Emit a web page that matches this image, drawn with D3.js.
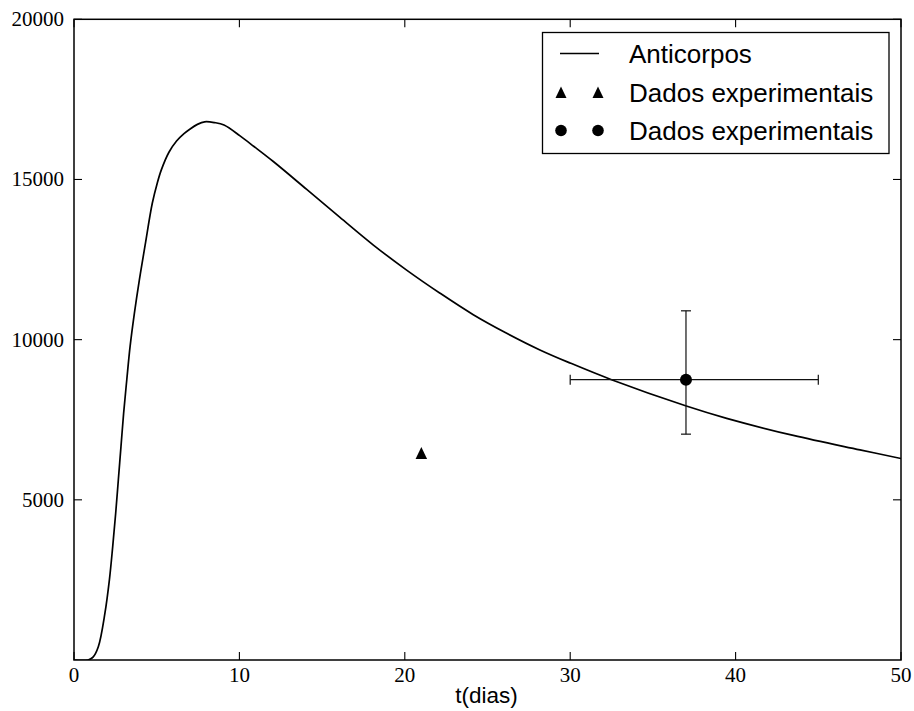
<!DOCTYPE html>
<html>
<head>
<meta charset="utf-8">
<script src="https://cdn.jsdelivr.net/npm/d3@7"></script>
<style>
  html, body { margin: 0; padding: 0; background: #fff; }
  svg { display: block; }
</style>
</head>
<body>
<svg id="chart" width="914" height="711"></svg>
<script>
// Antibody model curve (days, concentration)
const modelT = [0, 0.85, 1.15, 1.47, 1.87, 2.14, 2.34, 2.52, 2.68, 2.84, 3.0, 3.19, 3.39, 3.65, 3.95,
                4.3, 4.73, 5.04, 5.28, 5.74, 6.2, 6.65, 7.0, 7.46, 7.9, 8.5, 9.07, 10.04, 10.88,
                12.05, 14.07, 16.08, 18.1, 20.11, 22.13, 24.14, 26.16, 28.17, 30, 32.5, 37.02,
                39.46, 43.49, 47.52, 50];
const modelY = [0, 0, 90, 415, 1460, 2500, 3540, 4580, 5620, 6660, 7700, 8740, 9780, 10820, 11860,
                12950, 14250, 14900, 15300, 15850, 16200, 16430, 16570, 16720, 16800, 16775, 16700, 16360, 16030,
                15560, 14690, 13817, 12953, 12172, 11450, 10780, 10200, 9680, 9270, 8750, 7928,
                7544, 7010, 6560, 6290];

// Experimental data, set 1 (triangles)
const triT = [21];
const triY = [6450];

// Experimental data, set 2 (circles) with error ranges
const dotT = [37];
const dotY = [8750];
const dotTLow = [30];
const dotTHigh = [45];
const dotYLow = [7050];
const dotYHigh = [10900];

const xTicks = [0, 10, 20, 30, 40, 50];
const yTicks = [5000, 10000, 15000, 20000];

const legendLabels = ["Anticorpos", "Dados experimentais", "Dados experimentais"];
const xLabel = "t(dias)";

const svg = d3.select("#chart");
const W = 914, H = 711;
const m = { left: 74, top: 19.3, right: 13, bottom: 51 };

const x = d3.scaleLinear().domain([0, 50]).range([m.left, W - m.right]);
const y = d3.scaleLinear().domain([0, 20000]).range([H - m.bottom, m.top]);

const tickLen = 8;
const serif = "'Liberation Serif', 'DejaVu Serif', serif";
const sans = "'Liberation Sans', Arial, sans-serif";

// Model curve, clipped to the plot area
svg.append("clipPath").attr("id", "plotclip")
  .append("rect")
  .attr("x", x(0)).attr("y", y(20000))
  .attr("width", x(50) - x(0)).attr("height", y(0) - y(20000));

const curve = modelT.map((t, i) => [t, modelY[i]]);
svg.append("path")
  .datum(curve)
  .attr("clip-path", "url(#plotclip)")
  .attr("fill", "none")
  .attr("stroke", "#000")
  .attr("stroke-width", 1.7)
  .attr("stroke-linejoin", "round")
  .attr("d", d3.line().x(d => x(d[0])).y(d => y(d[1])).curve(d3.curveCatmullRom.alpha(0.5)));

// Error bars
const cap = 5;
const eb = svg.append("g").attr("stroke", "#111").attr("stroke-width", 1.2).attr("fill", "none");
dotT.forEach((t, i) => {
  eb.append("line").attr("x1", x(dotTLow[i])).attr("x2", x(dotTHigh[i])).attr("y1", y(dotY[i])).attr("y2", y(dotY[i]));
  eb.append("line").attr("x1", x(t)).attr("x2", x(t)).attr("y1", y(dotYLow[i])).attr("y2", y(dotYHigh[i]));
  [dotTLow[i], dotTHigh[i]].forEach(v =>
    eb.append("line").attr("x1", x(v)).attr("x2", x(v)).attr("y1", y(dotY[i]) - cap).attr("y2", y(dotY[i]) + cap));
  [dotYLow[i], dotYHigh[i]].forEach(v =>
    eb.append("line").attr("x1", x(t) - cap).attr("x2", x(t) + cap).attr("y1", y(v)).attr("y2", y(v)));
});

// Markers
const triPath = (cx, cy, s) =>
  `M${cx},${cy - s * 0.55} L${cx + s / 2},${cy + s * 0.5} L${cx - s / 2},${cy + s * 0.5} Z`;
triT.forEach((t, i) => {
  svg.append("path").attr("d", triPath(x(t), y(triY[i]), 11.5)).attr("fill", "#000");
});
dotT.forEach((t, i) => {
  svg.append("circle").attr("cx", x(t)).attr("cy", y(dotY[i])).attr("r", 6).attr("fill", "#000");
});

// Frame
svg.append("rect")
  .attr("x", x(0)).attr("y", y(20000))
  .attr("width", x(50) - x(0)).attr("height", y(0) - y(20000))
  .attr("fill", "none").attr("stroke", "#000").attr("stroke-width", 1.5);

// Inward ticks on all four sides
const tg = svg.append("g").attr("stroke", "#000").attr("stroke-width", 1.1);
xTicks.forEach(v => {
  tg.append("line").attr("x1", x(v)).attr("x2", x(v)).attr("y1", y(0)).attr("y2", y(0) - tickLen);
  tg.append("line").attr("x1", x(v)).attr("x2", x(v)).attr("y1", y(20000)).attr("y2", y(20000) + tickLen);
});
yTicks.forEach(v => {
  tg.append("line").attr("x1", x(0)).attr("x2", x(0) + tickLen).attr("y1", y(v)).attr("y2", y(v));
  tg.append("line").attr("x1", x(50)).attr("x2", x(50) - tickLen).attr("y1", y(v)).attr("y2", y(v));
});

// Tick labels
svg.append("g").selectAll("text").data(xTicks).join("text")
  .attr("x", d => x(d)).attr("y", y(0) + 22)
  .attr("text-anchor", "middle")
  .attr("font-family", serif).attr("font-size", 21).attr("fill", "#000")
  .text(d => d);
svg.append("g").selectAll("text").data(yTicks).join("text")
  .attr("x", x(0) - 10).attr("y", d => y(d) + 7)
  .attr("text-anchor", "end")
  .attr("font-family", serif).attr("font-size", 21).attr("fill", "#000")
  .text(d => d);

// Axis label
svg.append("text")
  .attr("x", (x(0) + x(50)) / 2 - 1).attr("y", 703)
  .attr("text-anchor", "middle")
  .attr("font-family", sans).attr("font-size", 22.5).attr("fill", "#000")
  .text(xLabel);

// Legend
const lg = svg.append("g");
lg.append("rect").attr("x", 542.5).attr("y", 32.5).attr("width", 346.5).attr("height", 121)
  .attr("fill", "#fff").attr("stroke", "#000").attr("stroke-width", 1.3);
const rowY = [53.5, 92.5, 130.5];
const mk1 = 561, mk2 = 598, textX = 629;
lg.append("line").attr("x1", mk1 - 1).attr("x2", mk2 + 1).attr("y1", rowY[0]).attr("y2", rowY[0])
  .attr("stroke", "#000").attr("stroke-width", 1.7);
[mk1, mk2].forEach(cx => {
  lg.append("path").attr("d", triPath(cx, rowY[1], 11)).attr("fill", "#000");
  lg.append("circle").attr("cx", cx).attr("cy", rowY[2]).attr("r", 5.8).attr("fill", "#000");
});
lg.selectAll("text.lab").data(legendLabels).join("text")
  .attr("class", "lab")
  .attr("x", textX).attr("y", (d, i) => rowY[i] + 9)
  .attr("font-family", sans).attr("font-size", 26).attr("fill", "#000")
  .text(d => d);
</script>
</body>
</html>
